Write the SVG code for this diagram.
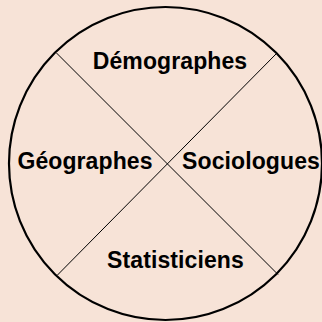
<svg xmlns="http://www.w3.org/2000/svg" width="322" height="322" viewBox="0 0 322 322">
<style>
.lbl{font-family:"Liberation Sans",Arial,sans-serif;font-weight:bold;font-size:23px;letter-spacing:0.1px;fill:#000;text-anchor:middle}
.ln{stroke:#000;stroke-width:1;fill:none}
</style>
<rect width="322" height="322" fill="#F7E3D7"/>
<g id="circle"><circle cx="165.5" cy="163.5" r="156.5" fill="none" stroke="#000" stroke-width="2.2"/></g>
<g id="connectors">
<line class="ln" x1="56.5" y1="53" x2="278" y2="274.5"/>
<line class="ln" x1="277" y1="53" x2="57.5" y2="275"/>
</g>
<g id="demographes"><text class="lbl" x="170" y="69">Démographes</text></g>
<g id="geographes"><text class="lbl" x="85" y="169">Géographes</text></g>
<g id="sociologues"><text class="lbl" x="251" y="169">Sociologues</text></g>
<g id="statisticiens"><text class="lbl" x="175.5" y="268">Statisticiens</text></g>
</svg>
